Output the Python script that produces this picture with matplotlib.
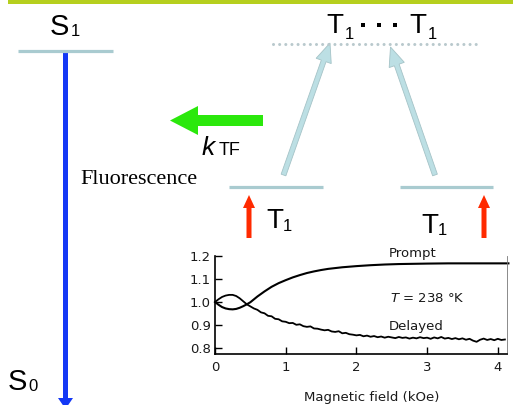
import matplotlib
matplotlib.use('Agg')
import matplotlib.pyplot as plt
from matplotlib.patches import FancyArrow, Rectangle

# ── inset data ──────────────────────────────────────────────
prompt_x = [0, 0.05, 0.1, 0.15, 0.2, 0.25, 0.3, 0.35, 0.4, 0.45, 0.5, 0.6, 0.7,
            0.8, 0.9, 1.0, 1.1, 1.2, 1.3, 1.4, 1.5, 1.6, 1.8, 2.0, 2.2, 2.4,
            2.6, 2.8, 3.0, 3.3, 3.6, 4.0, 4.15]
prompt_y = [1.0, 0.988, 0.978, 0.972, 0.969, 0.968, 0.970, 0.975, 0.982, 0.990,
            0.999, 1.024, 1.046, 1.066, 1.082, 1.095, 1.107, 1.117, 1.126, 1.133,
            1.139, 1.144, 1.151, 1.156, 1.160, 1.163, 1.165, 1.166, 1.167, 1.168,
            1.168, 1.168, 1.168]

delayed_x = [0, 0.05, 0.1, 0.15, 0.2, 0.25, 0.3, 0.35, 0.4, 0.45,
             0.50, 0.55, 0.60, 0.65, 0.70, 0.75, 0.80, 0.85, 0.90, 0.95,
             1.00, 1.05, 1.10, 1.15, 1.20, 1.25, 1.30, 1.35, 1.40, 1.45,
             1.50, 1.55, 1.60, 1.65, 1.70, 1.75, 1.80, 1.85, 1.90, 1.95,
             2.00, 2.05, 2.10, 2.15, 2.20, 2.25, 2.30, 2.35, 2.40, 2.45,
             2.50, 2.55, 2.60, 2.65, 2.70, 2.75, 2.80, 2.85, 2.90, 2.95,
             3.00, 3.05, 3.10, 3.15, 3.20, 3.25, 3.30, 3.35, 3.40, 3.45,
             3.50, 3.55, 3.60, 3.65, 3.70, 3.75, 3.80, 3.85, 3.90, 3.95,
             4.00, 4.05, 4.10]
delayed_y = [1.0, 1.012, 1.022, 1.028, 1.031, 1.031, 1.026, 1.016, 1.003, 0.990,
             0.981, 0.972, 0.966, 0.955, 0.951, 0.940, 0.938, 0.927, 0.925, 0.916,
             0.914, 0.908, 0.909, 0.901, 0.903, 0.895, 0.892, 0.894, 0.885, 0.884,
             0.880, 0.877, 0.879, 0.872, 0.870, 0.873, 0.864, 0.866, 0.860, 0.858,
             0.855, 0.857, 0.851, 0.854, 0.849, 0.852, 0.847, 0.850, 0.845, 0.849,
             0.846, 0.843, 0.848, 0.844, 0.846, 0.841, 0.845, 0.842, 0.847, 0.843,
             0.845, 0.840, 0.846, 0.842, 0.848, 0.841, 0.844, 0.839, 0.843, 0.838,
             0.842, 0.836, 0.840, 0.832, 0.827, 0.836, 0.841, 0.835, 0.839, 0.834,
             0.840, 0.835, 0.837]

x_ticks = [0, 1, 2, 3, 4]
y_ticks = [0.8, 0.9, 1.0, 1.1, 1.2]
y_ticklabels = ['0.8', '0.9', '1.0', '1.1', '1.2']

SANS = 'Liberation Sans'
LEVEL = '#a9cbd0'
ARROW_BLUE = '#bcdfe4'
INK = '#1a1a1a'

fig = plt.figure(figsize=(5.13, 4.05), dpi=100)

# ── diagram, drawn in pixel coordinates ─────────────────────
ax = fig.add_axes([0, 0, 1, 1])
ax.set_xlim(0, 513)
ax.set_ylim(405, 0)
ax.axis('off')

ax.add_patch(Rectangle((8, 0), 505, 3.5, color='#b6cf1e', lw=0))

# energy levels
ax.plot([18, 113], [50.5, 50.5], color=LEVEL, lw=2.3, solid_capstyle='butt')
ax.plot([229, 323], [186.5, 186.5], color=LEVEL, lw=2.3, solid_capstyle='butt')
ax.plot([400, 493], [186.5, 186.5], color=LEVEL, lw=2.3, solid_capstyle='butt')
ax.plot([273, 477], [44, 44], color='#b9c9cd', lw=2.2,
        linestyle=(0, (0.01, 2.0)), dash_capstyle='round')

# fluorescence S1 -> S0
ax.add_patch(FancyArrow(65.5, 52, 0, 357, width=5, head_width=15, head_length=11,
                        length_includes_head=True, color='#1438f5', lw=0))
# k_TF arrow
ax.add_patch(FancyArrow(263, 120.5, -93, 0, width=11, head_width=29, head_length=28,
                        length_includes_head=True, color='#2be80c', lw=0))
# T1 + T1 -> T1...T1
ax.add_patch(FancyArrow(283.5, 175, 46.5, -132, width=5, head_width=16, head_length=19,
                        length_includes_head=True, fc=ARROW_BLUE, ec='#a5c3c7', lw=0.6))
ax.add_patch(FancyArrow(435, 175, -44.5, -128, width=5, head_width=16, head_length=19,
                        length_includes_head=True, fc=ARROW_BLUE, ec='#a5c3c7', lw=0.6))
# red excitation arrows
for xr in (249, 484):
    ax.add_patch(FancyArrow(xr, 238, 0, -43, width=5, head_width=12, head_length=13,
                            length_includes_head=True, color='#ff2a00', lw=0))

# labels
def label(x, y, s, size, **kw):
    ax.text(x, y, s, fontsize=size, family=kw.pop('family', SANS),
            ha='left', va='baseline', **kw)

label(50, 35, 'S', 21)
label(71, 35.5, '1', 12)
label(8, 390, 'S', 21)
label(28, 391, '0', 12)
label(326, 33, 'T', 20)
label(345, 39, '1', 12)
label(409, 33, 'T', 20)
label(428, 39, '1', 12)
ax.scatter([362.5, 378.5, 394.5], [24.5, 24.5, 24.5], marker='s', s=9, color='black', lw=0)
label(266, 228, 'T', 20)
label(283, 231, '1', 12)
label(421, 233, 'T', 20)
label(438, 235, '1', 12)
label(202, 155, 'k', 19, style='italic')
label(219, 155, 'TF', 13)
label(80, 184, 'Fluorescence', 16, family='Liberation Serif')

# ── inset: magnetic field dependence ────────────────────────
ax_in = fig.add_axes([215 / 513, 1 - 354 / 405, 292 / 513, 98 / 405])
ax_in.set_facecolor('none')
ax_in.plot(prompt_x, prompt_y, color='black', lw=1.5, clip_on=False)
ax_in.plot(delayed_x, delayed_y, color='black', lw=1.3)
ax_in.set_xlim(0.02, 4.13)
ax_in.set_ylim(0.774, 1.2)
ax_in.set_xticks(x_ticks)
ax_in.set_yticks(y_ticks)
ax_in.set_yticklabels(y_ticklabels)
ax_in.tick_params(direction='in', length=5, width=1, labelsize=9.5, pad=3,
                  labelcolor=INK)
ax_in.tick_params(axis='x', pad=5)
for side in ('left', 'bottom'):
    ax_in.spines[side].set_linewidth(1.2)
ax_in.spines['top'].set_visible(False)
ax_in.spines['right'].set_linewidth(0.6)
ax_in.spines['right'].set_color('#777777')

ax_in.text(2.46, 1.212, 'Prompt', fontsize=9.5, va='center', ha='left', color=INK)
ax_in.text(2.48, 1.016, '$T$ = 238 °K', fontsize=9.5, va='center', ha='left', color=INK)
ax_in.text(2.46, 0.894, 'Delayed', fontsize=9.5, va='center', ha='left', color=INK)
fig.text(372 / 513, 1 - 398 / 405, 'Magnetic field (kOe)', fontsize=9.5,
         ha='center', va='center', color=INK)

fig.savefig('out.png', dpi=100)
